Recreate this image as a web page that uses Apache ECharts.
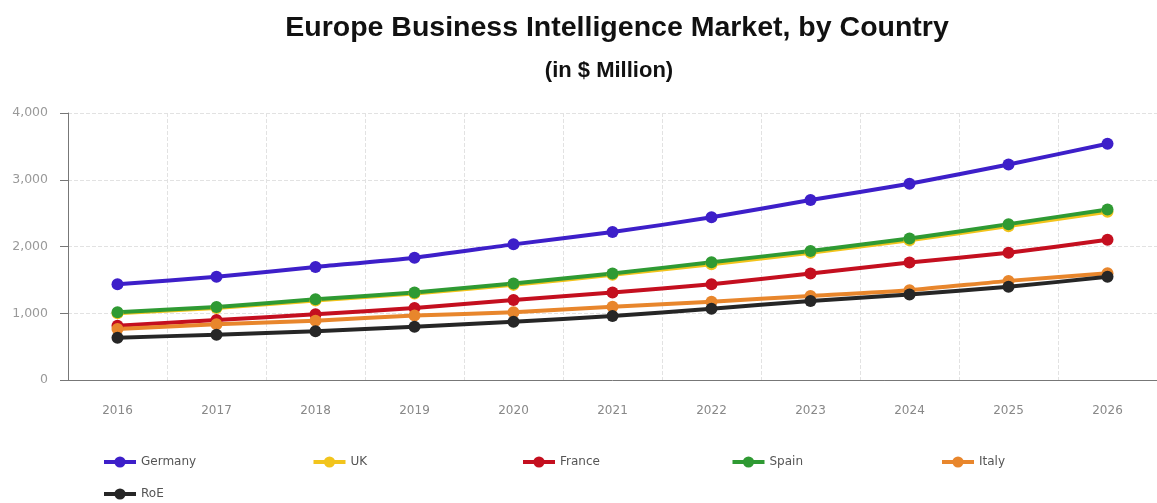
<!DOCTYPE html>
<html>
<head>
<meta charset="utf-8">
<script src="https://cdn.jsdelivr.net/npm/echarts@6/dist/echarts.min.js"></script>
<style>html,body{margin:0;padding:0;background:#fff;}#c{width:1157px;height:503px;}</style>
</head>
<body>
<div id="c"></div>
<script>
const years = ['2016','2017','2018','2019','2020','2021','2022','2023','2024','2025','2026'];
const germany = [1434, 1548, 1693, 1833, 2032, 2217, 2437, 2697, 2940, 3228, 3540];
const uk      = [1000, 1080, 1192, 1295, 1425, 1575, 1735, 1905, 2095, 2305, 2520];
const france  = [812, 899, 985, 1079, 1199, 1310, 1433, 1596, 1760, 1908, 2100];
const spain   = [1015, 1094, 1209, 1312, 1446, 1596, 1765, 1933, 2120, 2335, 2555];
const italy   = [764, 834, 889, 965, 1014, 1099, 1174, 1258, 1345, 1485, 1598];
const roe     = [634, 679, 729, 799, 873, 959, 1068, 1184, 1280, 1396, 1546];
const yTicks  = [0, 1000, 2000, 3000, 4000];

const names  = ['Germany','UK','France','Spain','Italy','RoE'];
const values = [germany, uk, france, spain, italy, roe];
const colors = ['#3d1fc9','#f2c41c','#c40f1f','#2f9a33','#e8862c','#262626'];

const chart = echarts.init(document.getElementById('c'));
chart.setOption({
  animation: false,
  backgroundColor: '#ffffff',
  title: [
    { text: 'Europe Business Intelligence Market, by Country', left: 612, top: 9, textAlign: 'center',
      textStyle: { fontFamily: 'Liberation Sans, Arial', fontWeight: 'bold', fontSize: 28.5, color: '#111' } },
    { text: '(in $ Million)', left: 604, top: 55, textAlign: 'center',
      textStyle: { fontFamily: 'Liberation Sans, Arial', fontWeight: 'bold', fontSize: 22, color: '#111' } }
  ],
  legend: {
    data: names,
    left: 97, top: 451,
    itemWidth: 32, itemHeight: 14, itemGap: 20,
    lineStyle: { width: 4 },
    textStyle: { fontFamily: 'DejaVu Sans, Verdana', fontSize: 12, color: '#555', width: 150.5, lineHeight: 12 }
  },
  grid: { left: 68, top: 113, width: 1090, height: 267, containLabel: false },
  xAxis: {
    type: 'category', data: years, boundaryGap: true,
    axisLine: { lineStyle: { color: '#777', width: 1 } },
    axisTick: { alignWithLabel: true, length: 8, lineStyle: { color: '#777' } },
    axisLabel: { color: '#888', fontSize: 12, margin: 25, fontFamily: 'DejaVu Sans, Verdana' },
    splitLine: { show: true, lineStyle: { color: '#e2e2e2', type: 'dashed' } }
  },
  yAxis: {
    type: 'value', min: yTicks[0], max: yTicks[yTicks.length - 1], interval: 1000,
    axisLine: { show: true, lineStyle: { color: '#777', width: 1 } },
    axisTick: { show: true, length: 8, lineStyle: { color: '#777' } },
    axisLabel: { color: '#999', fontSize: 12.5, margin: 20, fontFamily: 'DejaVu Sans, Verdana',
      formatter: v => v.toLocaleString('en-US') },
    splitLine: { show: true, lineStyle: { color: '#e2e2e2', type: 'dashed' } }
  },
  series: names.map((n, i) => ({
    name: n, type: 'line', data: values[i], smooth: 0.2,
    symbol: 'circle', symbolSize: 12,
    lineStyle: { width: 4, color: colors[i] },
    itemStyle: { color: colors[i] }
  }))
});
</script>
</body>
</html>
